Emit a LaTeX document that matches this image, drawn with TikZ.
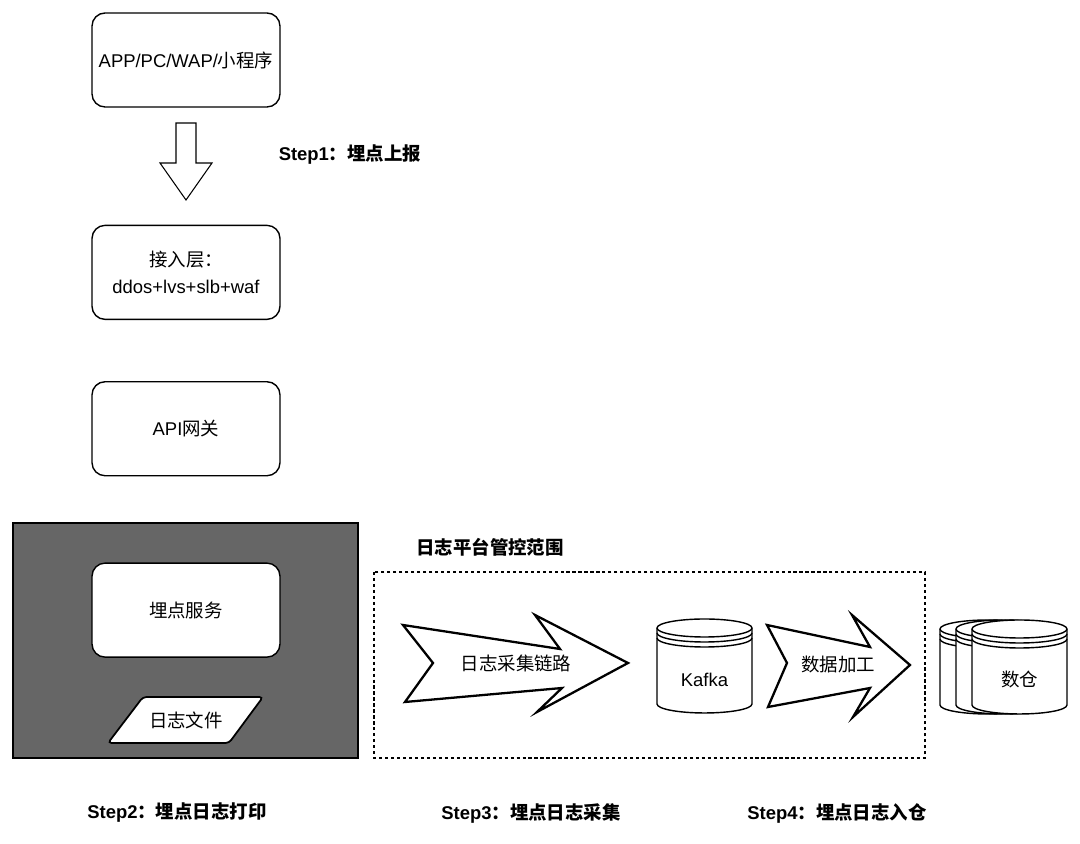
\documentclass[tikz,border=0pt]{standalone}
\usepackage{fontspec}
\setmainfont{Liberation Sans}
\newfontfamily\cjk{Noto Sans CJK SC}
\usetikzlibrary{positioning}
\definecolor{servegray}{RGB}{102,102,102}
\newcommand{\zh}[1]{{\cjk #1}}
% #1 = centre x, #2 = top y (in the picture's pixel units)
\newcommand{\datastore}[2]{%
  \begin{scope}[shift={(#1,#2)}, x=1cm, y=1cm]
    \draw[fill=white, line width=0.8pt] (-0.95,-0.18) -- (-0.95,-1.7)
      arc[start angle=180, end angle=360, x radius=0.95, y radius=0.18] -- (0.95,-0.18)
      arc[start angle=0, end angle=180, x radius=0.95, y radius=0.18] -- cycle;
    \foreach \d in {0,0.1,0.2}
      \draw[line width=0.8pt] (-0.95,-0.18-\d) arc[start angle=180, end angle=360, x radius=0.95, y radius=0.18];
  \end{scope}}

\begin{document}
\begin{tikzpicture}[
  x=0.02cm, y=-0.02cm,
  every node/.style={font=\fontsize{10.5}{15}\selectfont},
  box/.style={draw, line width=0.8pt, rounded corners=0.26cm, fill=white,
              minimum width=3.76cm, minimum height=1.88cm, align=center, inner sep=2pt},
  steplabel/.style={font=\fontsize{10.5}{15}\selectfont\bfseries},
  bigarrow/.style={draw, line width=1.3pt, fill=white, line join=miter},
  scopeline/.style={draw, line width=0.6pt, dash pattern=on 1.8pt off 1.6pt}
]
\fill[white] (0,0) rectangle (1080,844);
\useasboundingbox (0,0) rectangle (1080,844);

% client side column
\node[box] (client) at (186,60) {APP/PC/WAP/\zh{小程序}};
\node[box, below=2.34cm of client] (access) {\zh{接入层：}\\ddos+lvs+slb+waf};
\node[box, below=1.22cm of access] (gateway) {API\zh{网关}};

\draw[line width=0.6pt, fill=white] (176,123) -- (196,123) -- (196,163) -- (212,163)
  -- (186,200) -- (160,163) -- (176,163) -- cycle;
\node[steplabel] (step1) at (350,155) {Step1\zh{：埋点上报}};

% tracking service
\draw[fill=servegray, line width=0.6pt] (13,523) rectangle (358,758);
\node[box, below=1.72cm of gateway] (service) {\zh{埋点服务}};
\draw[fill=white, line width=1pt, rounded corners=2pt]
  (143,697) -- (263,697) -- (229,743) -- (108,743) -- cycle;
\node (logfile) at (186,720) {\zh{日志文件}};

% log platform
\draw[scopeline] (374,572) rectangle (925,758);
\node[steplabel] (platform) at (490,547) {\zh{日志平台管控范围}};

\draw[bigarrow] (403,625) -- (560,649) -- (535,615) -- (628,663) -- (537,712)
  -- (562,688) -- (405,702) -- (433,663) -- cycle;
\node (collect) at (516,663) {\zh{日志采集链路}};

\datastore{704.5}{619}
\node (kafka) at (704.5,680) {Kafka};

\draw[bigarrow] (767,625) -- (870,647) -- (852,615) -- (910,665) -- (853,717)
  -- (870,688) -- (768,707) -- (787,663) -- cycle;
\node (process) at (838,665) {\zh{数据加工}};

\foreach \cx in {987.5,1003.5,1019.5}
  \datastore{\cx}{620}
\node (warehouse) at (1019.5,680) {\zh{数仓}};

% step captions
\node[steplabel] (step2) at (177,813) {Step2\zh{：埋点日志打印}};
\node[steplabel] (step3) at (531,813) {Step3\zh{：埋点日志采集}};
\node[steplabel] (step4) at (837,813) {Step4\zh{：埋点日志入仓}};
\end{tikzpicture}
\end{document}
